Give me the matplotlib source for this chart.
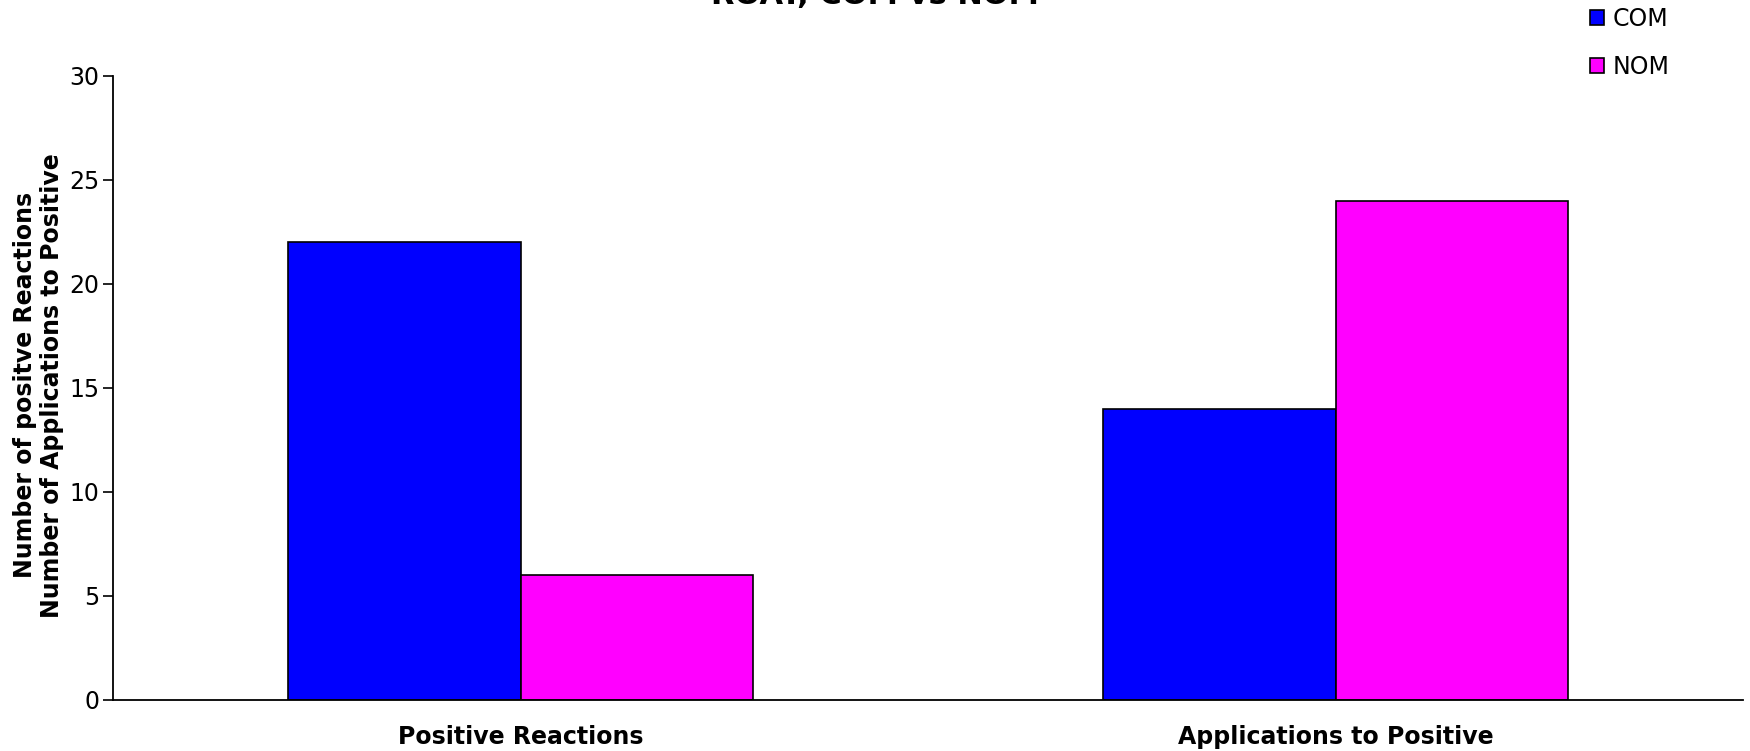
import matplotlib
matplotlib.use("Agg")
import matplotlib.pyplot as plt
from matplotlib.patches import Patch
import numpy as np

categories = ["Positive Reactions", "Applications to Positive"]
series_names = ["COM", "NOM"]
com_values = [22, 14]
nom_values = [6, 24]
colors = ["#0000FF", "#FF00FF"]
y_ticks = [0, 5, 10, 15, 20, 25, 30]
title = "ROAT, COM vs NOM"
y_label = "Number of positve Reactions\nNumber of Applications to Positive"

plt.rcParams["font.family"] = ["DejaVu Sans"]

fig = plt.figure(figsize=(17.5, 7.51), dpi=100)
ax = fig.add_axes([0.0646, 0.068, 0.9314, 0.831])

x = np.arange(len(categories))
w = 1 / 3.5
for i, (vals, c, name) in enumerate(zip([com_values, nom_values], colors, series_names)):
    ax.bar(x + (i - 0.5) * w, vals, width=w, color=c, edgecolor="black",
           linewidth=1.2, label=name, zorder=2)

ax.set_xlim(-0.5, 1.5)
ax.set_ylim(0, 30)
ax.set_yticks(y_ticks)
ax.set_xticks(x)
ax.set_xticklabels(categories, fontsize=17, fontweight="bold")
ax.tick_params(axis="x", length=0, pad=18)
ax.tick_params(axis="y", labelsize=17, length=7, width=1.2, direction="out", pad=3)
for s in ["top", "right"]:
    ax.spines[s].set_visible(False)
for s in ["left", "bottom"]:
    ax.spines[s].set_linewidth(1.3)

fig.text(0.022, 0.487, y_label, rotation=90, ha="center", va="center",
         fontsize=17, fontweight="bold", linespacing=1.15)

fig.text(0.5, 0.995, title, ha="center", va="baseline", fontsize=22,
         fontweight="bold")

handles = [Patch(facecolor=c, edgecolor="black", linewidth=1.2) for c in colors]
fig.legend(handles, series_names, loc="upper left", bbox_to_anchor=(0.902, 1.006),
           frameon=False, fontsize=17, handlelength=0.6, handleheight=0.6,
           handletextpad=0.35, labelspacing=1.0, borderaxespad=0.1)

fig.savefig("out.png", dpi=100)
